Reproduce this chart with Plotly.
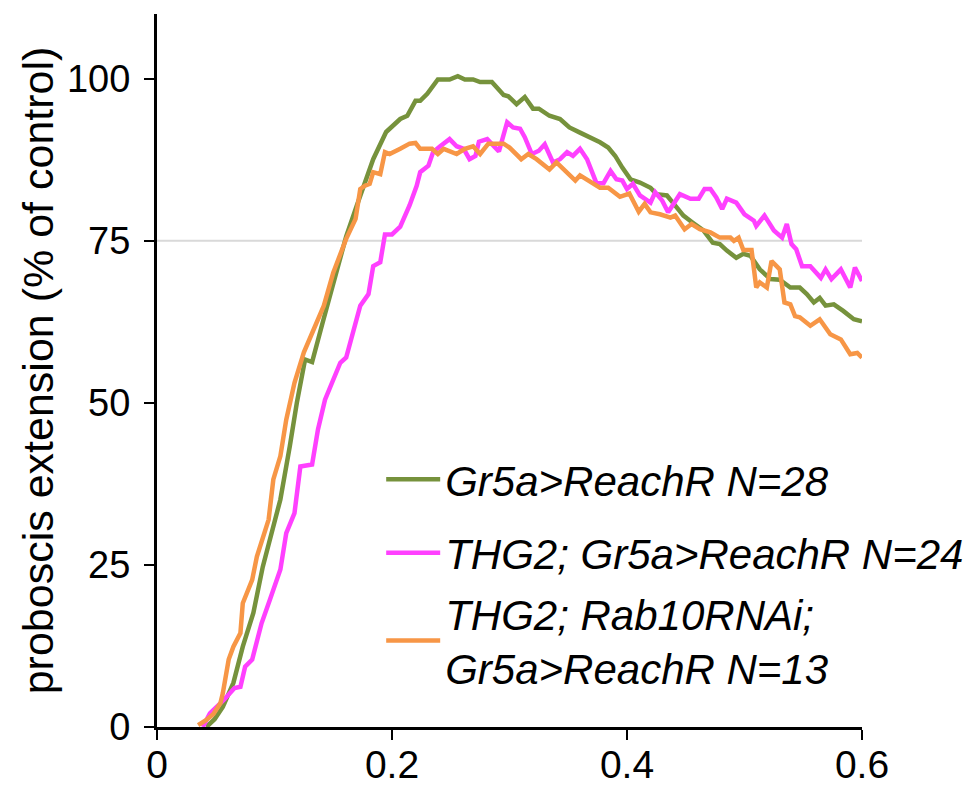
import plotly.graph_objects as go

# ---- data ----
green_name = "Gr5a>ReachR N=28"
green_x = [0.042, 0.049, 0.056, 0.065, 0.073, 0.082, 0.090, 0.096, 0.105, 0.113,
           0.119, 0.126, 0.132, 0.141, 0.153, 0.161, 0.170, 0.184, 0.195, 0.207,
           0.213, 0.220, 0.224, 0.230, 0.239, 0.249, 0.256, 0.262, 0.269, 0.275,
           0.285, 0.295, 0.299, 0.306, 0.313, 0.320, 0.325, 0.334, 0.343, 0.351,
           0.360, 0.369, 0.377, 0.384, 0.390, 0.396, 0.403, 0.411, 0.420, 0.425,
           0.434, 0.439, 0.448, 0.456, 0.465, 0.473, 0.479, 0.485, 0.493, 0.499,
           0.505, 0.513, 0.522, 0.530, 0.539, 0.547, 0.553, 0.559, 0.564, 0.569,
           0.576, 0.584, 0.593, 0.600]
green_y = [0, 1.2, 3.1, 6.8, 12.4, 17.6, 24.7, 28.9, 35.1, 43.3,
           50.0, 56.7, 56.3, 62.4, 70.2, 75.7, 80.4, 87.6, 91.8, 93.8,
           94.3, 96.6, 96.6, 97.7, 99.9, 99.9, 100.4, 99.9, 99.9, 99.5,
           99.5, 97.5, 97.3, 96.1, 97.2, 95.4, 95.4, 94.3, 93.8, 92.5,
           91.7, 91.0, 90.2, 89.4, 88.1, 86.3, 84.5, 84.0, 83.2, 82.2,
           82.0, 80.9, 78.9, 77.8, 76.6, 74.7, 74.5, 73.5, 72.4, 73.0,
           72.7, 70.6, 69.1, 69.0, 67.8, 67.8, 66.8, 65.5, 66.2, 65.0,
           65.2, 64.2, 62.9, 62.6]

magenta_name = "THG2; Gr5a>ReachR N=24"
magenta_x = [0.039, 0.045, 0.057, 0.062, 0.066, 0.071, 0.075, 0.081, 0.089, 0.096,
             0.105, 0.110, 0.117, 0.122, 0.132, 0.137, 0.143, 0.156, 0.161, 0.173,
             0.180, 0.184, 0.190, 0.194, 0.200, 0.207, 0.215, 0.221, 0.224, 0.231,
             0.235, 0.241, 0.249, 0.255, 0.261, 0.266, 0.271, 0.274, 0.281, 0.291,
             0.298, 0.303, 0.309, 0.313, 0.319, 0.325, 0.330, 0.337, 0.343, 0.349,
             0.354, 0.360, 0.366, 0.374, 0.380, 0.386, 0.391, 0.396, 0.400, 0.405,
             0.411, 0.420, 0.424, 0.430, 0.435, 0.445, 0.454, 0.461, 0.466, 0.471,
             0.476, 0.481, 0.485, 0.493, 0.500, 0.508, 0.510, 0.517, 0.525, 0.532,
             0.536, 0.540, 0.544, 0.549, 0.556, 0.565, 0.569, 0.574, 0.582, 0.590,
             0.594, 0.600]
magenta_y = [0, 2.1, 4.2, 5.2, 6.0, 6.2, 9.3, 10.4, 16.0, 19.6,
             24.3, 29.9, 33.0, 40.2, 40.5, 45.9, 50.5, 56.2, 57.0, 65.0,
             66.8, 71.1, 71.7, 76.0, 76.0, 77.2, 80.5, 83.5, 85.6, 86.6,
             88.7, 89.6, 90.7, 89.6, 89.2, 87.6, 88.1, 90.3, 90.7, 88.8,
             93.3, 92.5, 92.3, 91.0, 88.4, 88.9, 89.9, 87.1, 87.6, 88.7,
             88.1, 89.2, 87.6, 83.9, 83.9, 85.8, 84.5, 84.3, 83.0, 83.8,
             82.0, 80.9, 82.5, 81.2, 79.4, 82.2, 81.5, 81.5, 83.0, 83.0,
             81.7, 79.9, 81.5, 80.9, 79.1, 78.1, 77.3, 78.9, 76.6, 75.5,
             77.6, 74.5, 73.7, 71.1, 71.1, 69.3, 70.6, 69.1, 70.6, 67.8,
             70.9, 68.8]

orange_name = "THG2; Rab10RNAi;<br>Gr5a>ReachR N=13"
orange_x = [0.035, 0.042, 0.048, 0.054, 0.056, 0.061, 0.065, 0.071, 0.073, 0.081,
            0.085, 0.095, 0.099, 0.105, 0.110, 0.113, 0.117, 0.125, 0.133, 0.142,
            0.150, 0.161, 0.169, 0.173, 0.177, 0.181, 0.184, 0.190, 0.194, 0.198,
            0.207, 0.215, 0.220, 0.224, 0.234, 0.239, 0.244, 0.255, 0.262, 0.269,
            0.275, 0.282, 0.295, 0.300, 0.310, 0.316, 0.323, 0.334, 0.340, 0.349,
            0.356, 0.360, 0.369, 0.377, 0.384, 0.394, 0.402, 0.410, 0.415, 0.420,
            0.428, 0.437, 0.441, 0.449, 0.455, 0.462, 0.471, 0.479, 0.488, 0.491,
            0.495, 0.499, 0.506, 0.510, 0.513, 0.519, 0.523, 0.530, 0.534, 0.539,
            0.543, 0.547, 0.556, 0.564, 0.573, 0.582, 0.590, 0.596, 0.600]
orange_y = [0.3, 1.1, 2.0, 3.7, 5.2, 10.4, 12.4, 14.5, 19.1, 22.7,
            26.3, 32.0, 38.2, 41.8, 47.4, 50.0, 53.1, 57.8, 61.4, 65.0,
            70.1, 75.3, 78.4, 83.0, 83.5, 83.8, 85.6, 85.3, 88.7, 88.4,
            89.2, 90.0, 90.1, 89.2, 89.2, 88.4, 89.2, 88.4, 89.2, 89.6,
            88.4, 90.0, 90.0, 89.4, 87.6, 88.4, 87.6, 86.0, 87.1, 85.6,
            84.3, 85.1, 84.0, 83.2, 83.2, 81.8, 82.3, 79.5, 80.7, 79.4,
            79.1, 78.6, 78.9, 76.8, 77.6, 76.8, 76.3, 75.5, 75.5, 75.0,
            75.5, 73.6, 73.6, 67.8, 68.6, 67.8, 71.9, 70.6, 65.5, 65.2,
            63.4, 63.2, 61.9, 62.9, 60.6, 59.8, 57.5, 57.7, 57.0]

x_ticks = [0, 0.2, 0.4, 0.6]
x_tick_labels = ["0", "0.2", "0.4", "0.6"]
y_ticks = [0, 25, 50, 75, 100]
y_tick_labels = ["0", "25", "50", "75", "100"]
REF_LEVEL = 75
y_title = "proboscis extension (% of control)"

FONT = "Liberation Sans, Arial, Helvetica, sans-serif"

fig = go.Figure()
for xs, ys, name, col, leg in [
    (green_x, green_y, green_name, "#76923C", "legend"),
    (magenta_x, magenta_y, magenta_name, "#FF40FF", "legend"),
    (orange_x, orange_y, orange_name, "#F79646", "legend2"),
]:
    fig.add_trace(go.Scatter(x=xs, y=ys, mode="lines", name=name, legend=leg,
                             line=dict(color=col, width=4.5), legendgroup=name))

fig.add_shape(type="line", xref="x", yref="y", x0=0, x1=0.6,
              y0=REF_LEVEL, y1=REF_LEVEL, line=dict(color="#D9D9D9", width=2),
              layer="below")

leg_common = dict(xanchor="left", yanchor="top", bgcolor="rgba(0,0,0,0)",
                  font=dict(size=42, style="italic"), valign="middle",
                  itemwidth=54)

fig.update_layout(
    width=980, height=797,
    margin=dict(l=157, r=118, t=14, b=70, autoexpand=False),
    paper_bgcolor="white", plot_bgcolor="white",
    font=dict(family=FONT, color="black", size=36),
    showlegend=True,
    legend=dict(x=0.318, y=0.395, tracegroupgap=16, **leg_common),
    legend2=dict(x=0.318, y=0.207, **leg_common),
    xaxis=dict(range=[0, 0.6], tickvals=x_ticks, ticktext=x_tick_labels,
               showgrid=False, zeroline=False, showline=True, linecolor="black",
               linewidth=3, ticks="outside", ticklen=10, tickwidth=2,
               tickcolor="black", tickfont=dict(size=39), ticklabelstandoff=-9,
               automargin=False),
    yaxis=dict(range=[0, 110], tickvals=y_ticks, ticktext=y_tick_labels,
               showgrid=False, zeroline=False, showline=True, linecolor="black",
               linewidth=3, ticks="outside", ticklen=10, tickwidth=2,
               tickcolor="black", tickfont=dict(size=38), ticklabelstandoff=6,
               automargin=False,
               title=dict(text=y_title, font=dict(size=43), standoff=0)),
)

fig.write_html("out.html")
